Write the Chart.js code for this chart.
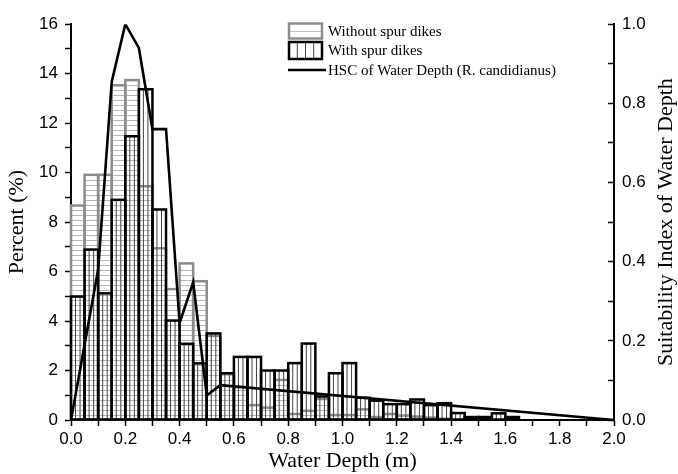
<!DOCTYPE html>
<html>
<head>
<meta charset="utf-8">
<title>Water depth distribution</title>
<script src="https://cdn.jsdelivr.net/npm/chart.js@4.4.1/dist/chart.umd.min.js"></script>
<style>
  html, body { margin: 0; padding: 0; background: #fff; }
  #wrap { position: relative; width: 678px; height: 474px; }
</style>
</head>
<body>
<div id="wrap"><canvas id="chart" width="678" height="474"></canvas></div>
<script>
'use strict';

// ── Data ──────────────────────────────────────────────────────────────────────
// Histogram bins are 0.05 m wide; values are bin centres
const depthBins = [
    0.025, 0.075, 0.125, 0.175, 0.225, 0.275, 0.325, 0.375, 0.425, 0.475,
    0.525, 0.575, 0.625, 0.675, 0.725, 0.775, 0.825, 0.875, 0.925, 0.975,
    1.025, 1.075, 1.125, 1.175, 1.225, 1.275, 1.325, 1.375, 1.425, 1.475,
    1.525, 1.575, 1.625
];

// Percent (%) – without spur dikes (grey, horizontal hatch)
const withoutSpur = [
    8.67, 9.91, 9.91, 13.53, 13.74, 9.45, 6.94, 5.29, 6.33, 5.61,
    3.40, 1.85, 1.33, 0.60, 0.50, 1.62, 0.24, 0.37, 0.85, 0.20,
    0.20, 0.43, 0.12, 0.24, 0.18, 0.14, 0.10, 0.05, null, null,
    null, null, null
];

// Percent (%) – with spur dikes (black, vertical hatch)
const withSpur = [
    4.99, 6.89, 5.12, 8.90, 11.47, 13.37, 8.51, 4.02, 3.08, 2.29,
    3.50, 1.89, 2.55, 2.55, 2.00, 2.00, 2.30, 3.09, 0.95, 1.89,
    2.30, 0.90, 0.78, 0.64, 0.64, 0.83, 0.60, 0.68, 0.28, 0.12,
    0.12, 0.27, 0.12
];

// Habitat suitability curve (right axis)
const hscDepth = [0, 0.10, 0.15, 0.20, 0.25, 0.30, 0.35, 0.40, 0.45, 0.50, 0.55, 2.00];
const hscIndex = [0, 0.38, 0.855, 1.00, 0.94, 0.735, 0.735, 0.245, 0.348, 0.062, 0.088, 0];

const seriesNames = [
    'Without spur dikes',
    'With spur dikes',
    'HSC of Water Depth (R. candidianus)'
];
const rightAxisTitle = 'Suitability Index of Water Depth';

// ── Helpers ───────────────────────────────────────────────────────────────────
const toPoints = (xs, ys) => xs
    .map((x, i) => ({ x, y: ys[i] }))
    .filter(p => p.y !== null && p.y !== undefined);

const SERIF = '"Liberation Serif", "Times New Roman", serif';
const SANS  = '"Liberation Sans", Arial, sans-serif';

// Hatching + outlines drawn around each bar element (bars themselves are transparent)
const hatchPlugin = {
    id: 'hatch',
    beforeDatasetDraw(chart, args) {
        const ds = chart.data.datasets[args.index];
        if (!ds.hatch) return;
        const ctx = chart.ctx;
        ctx.save();
        ctx.beginPath();
        args.meta.data.forEach(bar => {
            const { x, y, base, width } = bar.getProps(['x', 'y', 'base', 'width'], true);
            const left = x - width / 2;
            const right = x + width / 2;
            if (ds.hatch === 'h') {
                for (let yy = base - 5; yy > y + 1.5; yy -= 5) {
                    const py = Math.round(yy) + 0.5;
                    ctx.moveTo(left, py);
                    ctx.lineTo(right, py);
                }
            } else {
                for (let k = 1; k < 3; k++) {
                    const px = left + width * k / 3;
                    ctx.moveTo(px, y);
                    ctx.lineTo(px, base);
                }
            }
        });
        ctx.strokeStyle = ds.hatchColor;
        ctx.lineWidth = 1;
        ctx.stroke();
        ctx.restore();
    },
    afterDatasetDraw(chart, args) {
        const ds = chart.data.datasets[args.index];
        if (!ds.hatch) return;
        const ctx = chart.ctx;
        ctx.save();
        ctx.strokeStyle = ds.outlineColor;
        ctx.lineWidth = ds.outlineWidth;
        ctx.lineJoin = 'miter';
        args.meta.data.forEach(bar => {
            const { x, y, base, width } = bar.getProps(['x', 'y', 'base', 'width'], true);
            ctx.strokeRect(x - width / 2, y, width, base - y);
        });
        ctx.restore();
    }
};

// Legend box in the plot + right axis title (rotated bottom-to-top)
const legendPlugin = {
    id: 'boxLegend',
    afterDraw(chart) {
        const ctx = chart.ctx;
        ctx.save();

        // Without spur dikes
        ctx.strokeStyle = '#8c8c8c';
        ctx.lineWidth = 2.5;
        ctx.strokeRect(289, 23.5, 33, 15);
        ctx.strokeStyle = '#bdbdbd';
        ctx.lineWidth = 1;
        ctx.beginPath();
        ctx.moveTo(290, 31.5); ctx.lineTo(321, 31.5);
        ctx.stroke();

        // With spur dikes
        ctx.strokeStyle = '#444';
        ctx.lineWidth = 1;
        ctx.beginPath();
        [297.3, 305.5, 313.7].forEach(px => { ctx.moveTo(px, 42); ctx.lineTo(px, 59); });
        ctx.stroke();
        ctx.strokeStyle = '#000';
        ctx.lineWidth = 2.5;
        ctx.strokeRect(289, 42, 33, 17);

        // HSC line
        ctx.lineWidth = 2.5;
        ctx.beginPath();
        ctx.moveTo(288, 70); ctx.lineTo(326, 70);
        ctx.stroke();

        ctx.fillStyle = '#000';
        ctx.font = '15px ' + SERIF;
        ctx.textAlign = 'left';
        ctx.textBaseline = 'middle';
        ctx.fillText(seriesNames[0], 328, 32);
        ctx.fillText(seriesNames[1], 328, 51);
        ctx.fillText(seriesNames[2], 328, 71);

        // Right axis title
        ctx.font = '22px ' + SERIF;
        ctx.textAlign = 'center';
        ctx.translate(666, chart.chartArea.top + (chart.chartArea.bottom - chart.chartArea.top) / 2);
        ctx.rotate(-Math.PI / 2);
        ctx.fillText(rightAxisTitle, 0, 0);

        ctx.restore();
    }
};

// ── Chart ─────────────────────────────────────────────────────────────────────
const axisBorder = { display: true, color: '#000', width: 2 };
const tickFont   = { family: SANS, size: 17 };

new Chart(document.getElementById('chart'), {
    type: 'bar',
    data: {
        datasets: [
            {
                type: 'line',
                label: seriesNames[2],
                data: toPoints(hscDepth, hscIndex),
                yAxisID: 'y2',
                borderColor: '#000',
                borderWidth: 2.6,
                pointRadius: 0,
                tension: 0,
                fill: false,
                order: 0
            },
            {
                label: seriesNames[1],
                data: toPoints(depthBins, withSpur),
                yAxisID: 'y',
                backgroundColor: 'rgba(0,0,0,0)',
                borderWidth: 0,
                grouped: false,
                barPercentage: 1,
                categoryPercentage: 1,
                hatch: 'v',
                hatchColor: '#444',
                outlineColor: '#000',
                outlineWidth: 2.5,
                order: 1
            },
            {
                label: seriesNames[0],
                data: toPoints(depthBins, withoutSpur),
                yAxisID: 'y',
                backgroundColor: 'rgba(0,0,0,0)',
                borderWidth: 0,
                grouped: false,
                barPercentage: 1,
                categoryPercentage: 1,
                hatch: 'h',
                hatchColor: '#b8b8b8',
                outlineColor: '#8c8c8c',
                outlineWidth: 2.5,
                order: 2
            }
        ]
    },
    options: {
        responsive: false,
        animation: false,
        devicePixelRatio: 1,
        layout: { padding: { top: 19, left: 0, right: 0, bottom: 0 } },
        plugins: {
            legend: { display: false },
            tooltip: { enabled: false }
        },
        scales: {
            x: {
                type: 'linear',
                min: 0, max: 2,
                offset: false,
                border: axisBorder,
                grid: { offset: false, drawOnChartArea: false, tickLength: 6, tickColor: '#000', tickWidth: 1.5 },
                ticks: {
                    stepSize: 0.1,
                    autoSkip: false,
                    maxRotation: 0,
                    padding: 3,
                    color: '#000',
                    font: tickFont,
                    callback: v => Math.round(v * 10) % 2 === 0 ? v.toFixed(1) : ''
                },
                title: {
                    display: true, text: 'Water Depth (m)', color: '#000',
                    font: { family: SERIF, size: 22 }, padding: { top: 0, bottom: 0 }
                },
                afterFit: s => { s.height = 54; }
            },
            y: {
                position: 'left',
                min: 0, max: 16,
                border: axisBorder,
                grid: { drawOnChartArea: false, tickLength: 6, tickColor: '#000', tickWidth: 1.5 },
                ticks: {
                    stepSize: 1,
                    autoSkip: false,
                    padding: 7,
                    color: '#000',
                    font: tickFont,
                    callback: v => v % 2 === 0 ? String(v) : ''
                },
                title: {
                    display: true, text: 'Percent (%)', color: '#000',
                    font: { family: SERIF, size: 22 }, padding: { top: 4, bottom: 0 }
                },
                afterFit: s => { s.width = 71; }
            },
            y2: {
                position: 'right',
                min: 0, max: 1,
                border: axisBorder,
                grid: { drawOnChartArea: false, tickLength: -6, tickColor: '#000', tickWidth: 1.5 },
                ticks: {
                    stepSize: 0.1,
                    autoSkip: false,
                    padding: 14,
                    color: '#000',
                    font: tickFont,
                    callback: v => Math.round(v * 10) % 2 === 0 ? v.toFixed(1) : ''
                },
                afterFit: s => { s.width = 64; }
            }
        }
    },
    plugins: [hatchPlugin, legendPlugin]
});
</script>
</body>
</html>
